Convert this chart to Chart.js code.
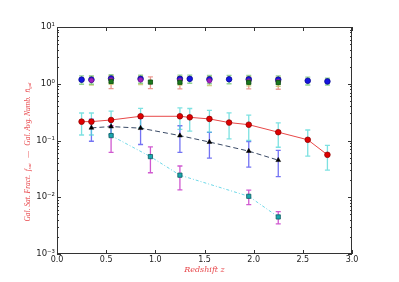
<!DOCTYPE html>
<html>
<head>
<meta charset="utf-8">
<script src="https://cdn.jsdelivr.net/npm/chart.js@4.4.0/dist/chart.umd.min.js"></script>
<style>
html,body{margin:0;padding:0;background:#fff;}
#wrap{width:399px;height:282px;}
</style>
</head>
<body>
<div id="wrap"><canvas id="c" width="399" height="282"></canvas></div>
<script>
// ---- data ----
const zRed = [0.25,0.35,0.55,0.85,1.25,1.35,1.55,1.75,1.95,2.25,2.55,2.75];
const fRed = [0.215,0.215,0.23,0.267,0.267,0.256,0.24,0.207,0.19,0.14,0.103,0.056];
const fRedErr = [0.09,0.09,0.1,0.1,0.11,0.11,0.1,0.1,0.09,0.064,0.05,0.026];
const nRed = [1.18,1.18,1.24,1.22,1.22,1.22,1.2,1.2,1.2,1.18,1.13,1.1];
const nRedErr = [0.2,0.2,0.2,0.2,0.2,0.2,0.2,0.2,0.2,0.2,0.18,0.15];

const zTri = [0.35,0.55,0.85,1.25,1.55,1.95,2.25];
const fTri = [0.167,0.176,0.165,0.122,0.094,0.065,0.045];
const fTriErr = [0.07,0.05,0.08,0.06,0.045,0.031,0.022];
const nTri = [1.15,1.18,1.17,1.15,1.13,1.12,1.1];
const nTriErr = [0.2,0.2,0.2,0.2,0.2,0.2,0.2];

const zSq = [0.55,0.95,1.25,1.95,2.25];
const fSq = [0.122,0.052,0.0245,0.0104,0.0045];
const fSqErr = [0.06,0.025,0.011,0.003,0.0011];
const nSq = [1.1,1.07,1.06,1.06,1.05];
const nSqErr = [0.28,0.25,0.25,0.25,0.25];

const xTicks = [0,0.5,1,1.5,2,2.5,3];
const yTicks = [0.001,0.01,0.1,1,10];
const yTickLabels = ['10⁻³','10⁻²','10⁻¹','10⁰','10¹'];

function pts(xs, ys){ return xs.map((x,i)=>({x:x,y:ys[i]})); }

const errorBars = {
  id:'errorBars',
  beforeDatasetsDraw(chart){
    const ctx = chart.ctx, xs = chart.scales.x, ys = chart.scales.y;
    ctx.save();
    chart.data.datasets.forEach(ds=>{
      if(!ds.errors) return;
      ctx.strokeStyle = ds.errColor; ctx.lineWidth = 1.3;
      ds.data.forEach((p,i)=>{
        const e = ds.errors[i];
        const px = xs.getPixelForValue(p.x);
        const lo = Math.max(p.y - e, 1e-4);
        const y1 = ys.getPixelForValue(p.y + e), y2 = ys.getPixelForValue(lo);
        ctx.beginPath();
        ctx.moveTo(px,y1); ctx.lineTo(px,y2);
        ctx.moveTo(px-2.5,y1); ctx.lineTo(px+2.5,y1);
        ctx.moveTo(px-2.5,y2); ctx.lineTo(px+2.5,y2);
        ctx.stroke();
      });
    });
    ctx.restore();
  }
};

const frame = {
  id:'frame',
  afterDraw(chart){
    const ctx = chart.ctx, a = chart.chartArea, xs = chart.scales.x, ys = chart.scales.y;
    ctx.save();
    ctx.strokeStyle = '#333'; ctx.lineWidth = 1;
    ctx.strokeRect(a.left+0.5, a.top+0.5, a.right-a.left-1, a.bottom-a.top-1);
    ctx.beginPath();
    xTicks.forEach(v=>{
      const px = Math.round(xs.getPixelForValue(v))+0.5;
      ctx.moveTo(px,a.bottom); ctx.lineTo(px,a.bottom-4);
      ctx.moveTo(px,a.top); ctx.lineTo(px,a.top+4);
    });
    for(let d=-3; d<1; d++){
      for(let m=1; m<=9; m++){
        const v = m*Math.pow(10,d);
        const py = Math.round(ys.getPixelForValue(v))+0.5;
        const len = m===1 ? 4 : 2;
        ctx.moveTo(a.left,py); ctx.lineTo(a.left+len,py);
        ctx.moveTo(a.right,py); ctx.lineTo(a.right-len,py);
      }
    }
    ctx.stroke();
    // y title
    ctx.fillStyle = '#e8484c';
    ctx.translate(28, 152);
    ctx.rotate(-Math.PI/2);
    const parts = [
      ['Gal. Sat. Fract.  ', 7.5, 0],
      ['f', 7.5, 0],
      ['sat', 5, 2],
      ['   —   Gal. Avg. Numb.  ', 7.5, 0],
      ['n̄', 7.5, 0],
      ['gal', 5, 2]
    ];
    const fam = '"Liberation Serif"';
    let total = 0;
    parts.forEach(p=>{ ctx.font = 'italic '+p[1]+'px '+fam; total += ctx.measureText(p[0]).width; });
    const sc = 139/total;
    ctx.scale(sc,1);
    let x = -total/2;
    ctx.textBaseline = 'middle';
    parts.forEach(p=>{ ctx.font = 'italic '+p[1]+'px '+fam; ctx.fillText(p[0], x, p[2]); x += ctx.measureText(p[0]).width; });
    ctx.restore();
  }
};

new Chart(document.getElementById('c'), {
  type:'scatter',
  data:{ datasets:[
    {label:'nSq', data:pts(zSq,nSq), errors:nSqErr, errColor:'rgba(230,130,120,0.8)', showLine:false,
     pointStyle:'rect', pointRadius:3, backgroundColor:'#1c7a1c', borderColor:'#0d4d0d', borderWidth:0.8},
    {label:'nTri', data:pts(zTri,nTri), errors:nTriErr, errColor:'rgba(200,200,110,0.85)', showLine:false,
     pointStyle:'circle', pointRadius:2.4, backgroundColor:'#a020c0', borderColor:'#701090', borderWidth:0.6},
    {label:'nRed', data:pts(zRed,nRed), errors:nRedErr, errColor:'rgba(120,200,120,0.8)', showLine:false,
     pointStyle:'circle', pointRadius:2.8, backgroundColor:'#1515e0', borderColor:'#0a0a90', borderWidth:0.8},
    {label:'fSq', data:pts(zSq,fSq), errors:fSqErr, errColor:'rgba(200,60,200,0.85)', showLine:true,
     borderColor:'#6dd8e8', borderWidth:1, borderDash:[3,2,1,2], pointStyle:'rect', pointRadius:3,
     pointBackgroundColor:'#1aa8b0', pointBorderColor:'#0c5c60', pointBorderWidth:0.8},
    {label:'fTri', data:pts(zTri,fTri), errors:fTriErr, errColor:'rgba(80,80,240,0.8)', showLine:true,
     borderColor:'#3a4a66', borderWidth:1, borderDash:[5,3], pointStyle:'triangle', pointRadius:2.8,
     pointBackgroundColor:'#000', pointBorderColor:'#000', pointBorderWidth:0.5},
    {label:'fRed', data:pts(zRed,fRed), errors:fRedErr, errColor:'rgba(80,215,215,0.75)', showLine:true,
     borderColor:'#e84848', borderWidth:1, pointStyle:'circle', pointRadius:2.8,
     pointBackgroundColor:'#e00000', pointBorderColor:'#900000', pointBorderWidth:0.8}
  ]},
  options:{
    responsive:false, animation:false,
    layout:{padding:{left:0,right:47,top:27,bottom:0}},
    plugins:{legend:{display:false}, tooltip:{enabled:false}},
    scales:{
      x:{type:'linear', min:0, max:3,
        afterBuildTicks(s){ s.ticks = xTicks.map(v=>({value:v})); },
        afterFit(s){ s.height = 28; },
        grid:{display:false, drawTicks:false},
        border:{display:false},
        ticks:{padding:1, color:'#222', font:{family:'DejaVu Sans', size:8}, maxRotation:0,
          callback:(v)=>Number(v).toFixed(1)},
        title:{display:true, text:'Redshift z', color:'#e8484c',
          font:{family:'DejaVu Serif', size:8, style:'italic'}, padding:{top:0,bottom:7}}
      },
      y:{type:'logarithmic', min:0.001, max:10,
        afterBuildTicks(s){ s.ticks = yTicks.map(v=>({value:v})); },
        afterFit(s){ s.width = 57; },
        grid:{display:false, drawTicks:false},
        border:{display:false},
        ticks:{padding:2, color:'#222', font:{family:'DejaVu Sans', size:8.5},
          callback:(v)=>{ const i = yTicks.findIndex(t=>Math.abs(t-v)/t<1e-6); return i>=0 ? yTickLabels[i] : ''; }}
      }
    }
  },
  plugins:[errorBars, frame]
});
</script>
</body>
</html>
